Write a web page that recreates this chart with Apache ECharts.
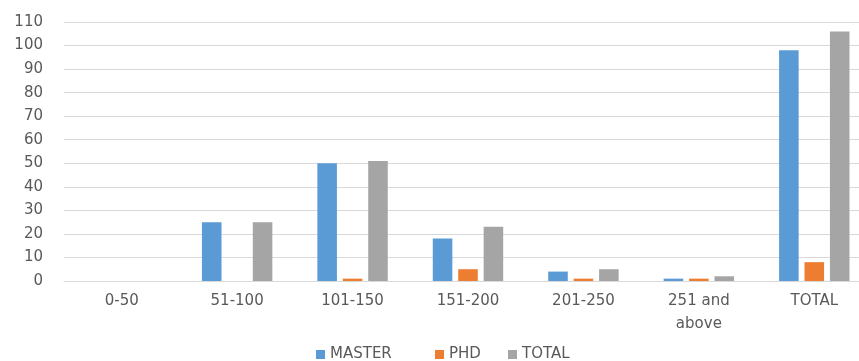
<!DOCTYPE html>
<html>
<head>
<meta charset="utf-8">
<script src="https://cdn.jsdelivr.net/npm/echarts@6/dist/echarts.min.js"></script>
<style>
  html, body { margin: 0; padding: 0; background: #fff; }
  #chart { width: 859px; height: 361px; }
</style>
</head>
<body>
<div id="chart"></div>
<script>
// Income bands and counts per degree level
const categories = ['0-50', '51-100', '101-150', '151-200', '201-250', '251 and\nabove', 'TOTAL'];
const master = [0, 25, 50, 18, 4, 1, 98];
const phd = [0, 0, 1, 5, 1, 1, 8];
const total = [0, 25, 51, 23, 5, 2, 106];
const yTicks = { min: 0, max: 110, interval: 10 };

const labelColor = '#595959';
const fontFamily = 'DejaVu Sans';
const colors = { MASTER: '#5B9BD5', PHD: '#ED7D31', TOTAL: '#A5A5A5' };

const chart = echarts.init(document.getElementById('chart'));

function barSeries(name, data) {
  return {
    name: name,
    type: 'bar',
    data: data,
    barGap: '30%',
    barCategoryGap: '39%',
    itemStyle: { color: colors[name] },
    emphasis: { disabled: true }
  };
}

// one legend entry per block so each sits at its own spot
function legendAt(name, left) {
  return {
    data: [name],
    top: 347,
    left: left,
    padding: 0,
    itemWidth: 9,
    itemHeight: 9,
    icon: 'rect',
    selectedMode: false,
    textStyle: { color: labelColor, fontSize: 15, fontFamily: fontFamily }
  };
}

chart.setOption({
  animation: false,
  textStyle: { fontFamily: fontFamily },
  // the plot runs a little past the right edge of the canvas
  grid: { left: 64, width: 808, top: 22, height: 259, containLabel: false, outerBoundsMode: 'none' },
  legend: [
    legendAt('MASTER', 316),
    legendAt('PHD', 435),
    legendAt('TOTAL', 508)
  ],
  xAxis: {
    type: 'category',
    data: categories,
    axisLine: { lineStyle: { color: '#d9d9d9', width: 1 } },
    axisTick: { show: false },
    axisLabel: { color: labelColor, fontSize: 15, margin: 9, lineHeight: 23, interval: 0 }
  },
  yAxis: {
    type: 'value',
    min: yTicks.min,
    max: yTicks.max,
    interval: yTicks.interval,
    axisLine: { show: false },
    axisTick: { show: false },
    splitLine: { lineStyle: { color: '#d9d9d9', width: 1 } },
    axisLabel: { color: labelColor, fontSize: 15, margin: 21 }
  },
  series: [
    barSeries('MASTER', master),
    barSeries('PHD', phd),
    barSeries('TOTAL', total)
  ]
});
</script>
</body>
</html>
